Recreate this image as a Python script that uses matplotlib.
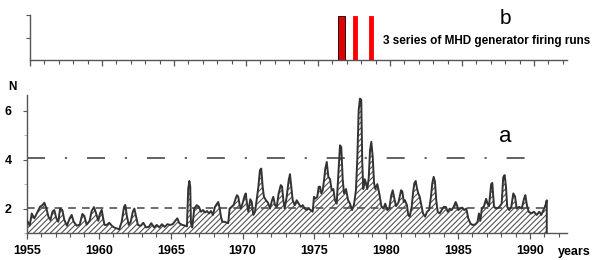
import matplotlib
matplotlib.use("Agg")
import matplotlib.pyplot as plt
from matplotlib.ticker import MultipleLocator

plt.rcParams['font.family'] = ['Liberation Sans', 'DejaVu Sans']
plt.rcParams['hatch.linewidth'] = 0.8
plt.rcParams['hatch.color'] = '#555555'

# ---- data (series a) ----
years = [1955.0, 1955.05, 1955.19, 1955.33, 1955.51, 1955.74, 1955.9, 1956.07, 1956.21, 1956.35,
         1956.49, 1956.63, 1956.77, 1956.9, 1957.04, 1957.18, 1957.3, 1957.46, 1957.6, 1957.78,
         1957.97, 1958.11, 1958.25, 1958.46, 1958.67, 1958.85, 1958.99, 1959.15, 1959.36, 1959.5,
         1959.66, 1959.8, 1959.96, 1960.08, 1960.2, 1960.3, 1960.4, 1960.55, 1960.73, 1960.9,
         1961.05, 1961.24, 1961.42, 1961.59, 1961.75, 1961.84, 1961.94, 1962.08, 1962.22, 1962.36,
         1962.47, 1962.59, 1962.72, 1962.91, 1963.09, 1963.28, 1963.47, 1963.65, 1963.84, 1964.03,
         1964.21, 1964.39, 1964.58, 1964.77, 1964.95, 1965.14, 1965.32, 1965.46, 1965.6, 1965.81,
         1966.0, 1966.13, 1966.22, 1966.3, 1966.36, 1966.41, 1966.5, 1966.64, 1966.81, 1966.97,
         1967.1, 1967.25, 1967.39, 1967.53, 1967.67, 1967.8, 1967.94, 1968.08, 1968.22, 1968.31,
         1968.41, 1968.5, 1968.59, 1968.73, 1968.9, 1969.0, 1969.1, 1969.24, 1969.38, 1969.52,
         1969.61, 1969.7, 1969.8, 1969.89, 1970.03, 1970.12, 1970.22, 1970.31, 1970.4, 1970.54,
         1970.64, 1970.75, 1970.87, 1970.98, 1971.1, 1971.21, 1971.3, 1971.4, 1971.49, 1971.63,
         1971.77, 1971.91, 1972.05, 1972.14, 1972.26, 1972.38, 1972.51, 1972.66, 1972.75, 1972.84,
         1972.93, 1973.07, 1973.21, 1973.3, 1973.39, 1973.49, 1973.63, 1973.77, 1973.91, 1974.05,
         1974.19, 1974.33, 1974.46, 1974.6, 1974.74, 1974.88, 1974.97, 1975.06, 1975.2, 1975.3,
         1975.39, 1975.48, 1975.58, 1975.67, 1975.76, 1975.86, 1975.97, 1976.09, 1976.2, 1976.32,
         1976.43, 1976.55, 1976.67, 1976.78, 1976.87, 1976.97, 1977.06, 1977.2, 1977.34, 1977.48,
         1977.62, 1977.75, 1977.89, 1977.99, 1978.08, 1978.17, 1978.26, 1978.33, 1978.4, 1978.5,
         1978.59, 1978.68, 1978.78, 1978.87, 1978.96, 1979.06, 1979.15, 1979.24, 1979.38, 1979.52,
         1979.66, 1979.8, 1979.93, 1980.07, 1980.21, 1980.35, 1980.45, 1980.55, 1980.68, 1980.85,
         1981.03, 1981.12, 1981.22, 1981.3, 1981.44, 1981.53, 1981.63, 1981.77, 1981.86, 1981.95,
         1982.05, 1982.14, 1982.23, 1982.33, 1982.42, 1982.56, 1982.7, 1982.84, 1982.98, 1983.11,
         1983.2, 1983.3, 1983.39, 1983.48, 1983.58, 1983.72, 1983.86, 1984.0, 1984.14, 1984.28,
         1984.42, 1984.55, 1984.69, 1984.83, 1984.92, 1985.01, 1985.15, 1985.29, 1985.43, 1985.57,
         1985.71, 1985.85, 1985.99, 1986.2, 1986.35, 1986.45, 1986.55, 1986.65, 1986.8, 1986.95,
         1987.05, 1987.15, 1987.3, 1987.38, 1987.5, 1987.69, 1987.87, 1988.03, 1988.14, 1988.24,
         1988.33, 1988.42, 1988.56, 1988.7, 1988.84, 1988.96, 1989.08, 1989.26, 1989.43, 1989.59,
         1989.68, 1989.77, 1989.91, 1990.1, 1990.28, 1990.47, 1990.65, 1990.79, 1990.94, 1991.08,
         1991.17]
values = [1.5, 1.46, 1.3, 1.8, 1.6, 1.87, 2.07, 2.14, 2.24, 2.01,
          1.67, 1.53, 1.87, 1.94, 1.6, 1.46, 2.0, 1.94, 1.53, 1.3,
          1.6, 1.74, 1.46, 1.3, 1.34, 1.78, 1.7, 1.34, 1.5, 1.9,
          2.06, 1.82, 1.5, 1.8, 1.95, 1.6, 1.33, 1.33, 1.42, 1.3,
          1.23, 1.19, 1.15, 1.46, 2.07, 2.15, 1.73, 1.33, 1.46, 1.87,
          2.0, 1.67, 1.33, 1.29, 1.42, 1.23, 1.25, 1.4, 1.23, 1.33,
          1.23, 1.36, 1.25, 1.36, 1.33, 1.36, 1.5, 1.6, 1.4, 1.33,
          1.3, 1.27, 2.82, 3.13, 2.9, 1.4, 1.23, 2.0, 2.14, 2.07,
          1.87, 1.94, 1.84, 1.9, 1.8, 1.9, 1.74, 2.07, 2.2, 2.27,
          2.0, 1.67, 1.46, 1.46, 1.42, 1.4, 2.0, 2.07, 2.15, 2.41,
          2.55, 2.48, 2.15, 2.0, 2.27, 2.48, 2.62, 2.2, 1.87, 2.38,
          2.27, 1.74, 1.87, 2.34, 2.89, 3.57, 3.64, 2.89, 2.48, 2.34,
          2.24, 2.0, 2.34, 2.48, 2.14, 2.07, 2.62, 2.96, 2.9, 2.34,
          2.0, 2.48, 3.16, 3.41, 2.89, 2.34, 2.14, 2.34, 2.2, 2.07,
          2.14, 2.0, 1.94, 2.0, 1.94, 1.87, 2.48, 2.41, 2.48, 2.89,
          2.9, 2.62, 2.75, 3.16, 3.64, 3.91, 3.3, 3.2, 2.75, 2.8,
          2.35, 2.2, 3.43, 4.59, 4.52, 3.2, 2.62, 2.8, 2.35, 2.2,
          1.94, 2.15, 2.75, 4.11, 6.02, 6.5, 6.45, 3.9, 2.8, 3.2,
          3.05, 2.8, 3.25, 4.39, 4.73, 4.11, 3.05, 2.8, 3.0, 2.6,
          2.1, 2.0, 2.2, 1.94, 2.0, 2.55, 2.75, 2.45, 2.1, 2.25,
          2.75, 2.7, 2.27, 2.34, 2.14, 1.74, 1.67, 2.07, 2.62, 3.03,
          3.13, 2.82, 2.62, 2.48, 2.2, 1.8, 1.67, 1.87, 1.94, 2.48,
          3.03, 3.3, 3.1, 2.34, 1.87, 1.8, 1.94, 2.07, 2.07, 1.87,
          2.0, 1.94, 2.07, 2.27, 2.14, 1.94, 2.0, 2.04, 1.94, 2.0,
          1.6, 1.4, 1.33, 1.35, 1.45, 1.8, 1.5, 2.0, 2.1, 2.4,
          2.2, 2.1, 3.0, 3.05, 2.07, 2.0, 2.07, 2.2, 3.28, 3.37,
          2.9, 2.07, 1.94, 2.07, 2.62, 2.5, 2.0, 2.07, 2.0, 2.41,
          2.55, 2.2, 1.87, 1.8, 1.87, 1.74, 1.87, 1.74, 1.94, 2.14,
          2.34]

# reference levels
level_dash = 2.02
level_dashdot = 4.08

# ---- data (series b): MHD firing run series (start, end year) ----
run_starts = [1976.4, 1977.43, 1978.54]
run_ends = [1976.88, 1977.71, 1978.82]
run_colors = ['#e00000', '#ff0000', '#ff0000']
run_edges = ['#000000', '#ff0000', '#ff0000']

xtick_years = [1955, 1960, 1965, 1970, 1975, 1980, 1985, 1990]
ytick_vals = [2, 4, 6]

W, H = 592, 260
fig = plt.figure(figsize=(W / 100, H / 100), dpi=100)
fig.patch.set_facecolor('white')

axis_col = '#555555'
line_col = '#333333'
bold = dict(fontweight='bold')

# ---------------- bottom panel (a) ----------------
ax = fig.add_axes([27 / W, 1 - 233 / H, (567 - 27) / W, (233 - 95) / H])
ymin = 1.0
ax.set_xlim(1955, 1955 + (567 - 27) / 14.37)
ax.set_ylim(ymin, 6.65)

ax.fill_between(years, values, ymin, facecolor='none', edgecolor='#555555',
                hatch='//////', linewidth=0, zorder=2)
ax.plot(years + [years[-1]], values + [ymin], color=line_col, lw=1.4, zorder=3)

ax.plot([1955, 1991.2], [level_dash, level_dash], color='#444444', lw=1.1,
        dashes=(5, 4), zorder=1)
ax.plot([1955, 1990.6], [level_dashdot, level_dashdot], color='#555555', lw=1.3,
        dashes=(10, 11, 1.2, 11), zorder=1)

for s in ['top', 'right']:
    ax.spines[s].set_visible(False)
for s in ['left', 'bottom']:
    ax.spines[s].set_color(axis_col)
    ax.spines[s].set_linewidth(1.0)

ax.set_xticks(xtick_years)
ax.set_xticklabels([str(y) for y in xtick_years], fontsize=9, **bold)
ax.xaxis.set_minor_locator(MultipleLocator(1))
ax.tick_params(axis='x', which='major', length=4, width=0.9, color=axis_col, pad=5)
ax.tick_params(axis='x', which='minor', length=3, width=0.8, color=axis_col)
ax.set_yticks(ytick_vals)
ax.set_yticklabels([str(v) for v in ytick_vals], fontsize=9, **bold)
ax.yaxis.set_minor_locator(MultipleLocator(1))
ax.tick_params(axis='y', which='major', length=3, width=0.8, color=axis_col, pad=8)
ax.tick_params(axis='y', which='minor', length=2, width=0.6, color='#aaaaaa')

fig.text(8 / W, 1 - 87 / H, 'N', fontsize=8.5, ha='left', va='center', **bold)
fig.text(558 / W, 1 - 252 / H, 'years', fontsize=9, ha='left', va='center', **bold)
fig.text(505 / W, 1 - 136 / H, 'a', fontsize=16, ha='center', va='center')

# ---------------- top panel (b) ----------------
axb = fig.add_axes([30 / W, 1 - 60 / H, (567 - 30) / W, (60 - 15) / H])
axb.set_xlim(1955, 1955 + (567 - 30) / 14.4)
axb.set_ylim(0, 1)
for st, en, fc, ec in zip(run_starts, run_ends, run_colors, run_edges):
    axb.bar(st, 0.98, width=en - st, align='edge', color=fc, edgecolor=ec, linewidth=0.6)
for s in ['top', 'right']:
    axb.spines[s].set_visible(False)
for s in ['left', 'bottom']:
    axb.spines[s].set_color(axis_col)
    axb.spines[s].set_linewidth(1.0)
axb.set_xticks(xtick_years)
axb.set_xticklabels([])
axb.xaxis.set_minor_locator(MultipleLocator(1))
axb.tick_params(axis='x', which='major', length=4, width=0.9, color=axis_col)
axb.tick_params(axis='x', which='minor', length=3, width=0.8, color=axis_col)
axb.set_yticks([0.5, 1.0])
axb.set_yticklabels([])
axb.tick_params(axis='y', length=3, width=0.8, color=axis_col)

fig.text(505 / W, 1 - 18 / H, 'b', fontsize=15, ha='center', va='center')
fig.text(383 / W, 1 - 41 / H, '3 series of MHD generator firing runs', fontsize=8.5,
         ha='left', va='center', **bold)

fig.savefig('out.png', dpi=100, facecolor='white')
